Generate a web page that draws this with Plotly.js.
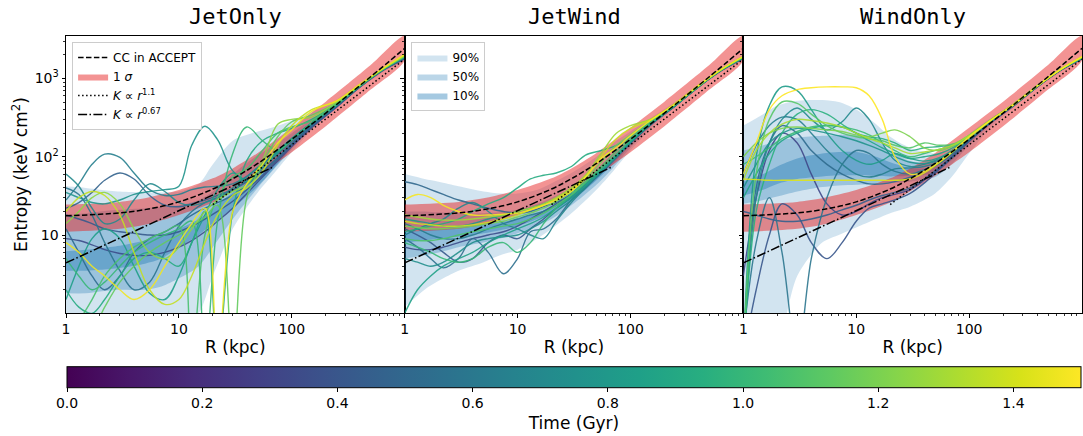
<!DOCTYPE html>
<html><head><meta charset="utf-8">
<script src="https://cdn.plot.ly/plotly-3.0.1.min.js"></script>
<style>body{margin:0;background:#fff}#chart{width:1083px;height:436px}</style>
</head><body><div id="chart"></div>
<script>
// ---------- data ----------
const PANEL_TITLES = ['JetOnly', 'JetWind', 'WindOnly'];
const X_TICKS = [1, 10, 100];
const X_TICK_TEXT = ['1', '10', '100'];
const Y_TICKS = [10, 100, 1000];
const Y_TICK_TEXT = ['10', '10<sup>2</sup>', '10<sup>3</sup>'];
const CB_TICKS = [0.0, 0.2, 0.4, 0.6, 0.8, 1.0, 1.2, 1.4];

// ACCEPT cool-core profile and 1 sigma band
const ACCEPT_R  = [1, 2, 3, 5, 10, 20, 30, 50, 100, 200, 500, 1000];
const ACCEPT_K  = [17.6, 18.4, 19.2, 21.1, 26.5, 38.7, 52.4, 82, 167, 361, 1052, 2420];
const ACCEPT_LO = [11, 11.5, 12, 13.5, 18, 26, 36, 57, 114, 245, 720, 1700];
const ACCEPT_HI = [24.5, 25.5, 26.5, 29.5, 37.5, 53, 71, 112, 235, 505, 1480, 3500];
// power laws
const PL11_R = [20, 1000];
const PL11_K = [24.5, 1760];
const PL067_R = [1, 70];
const PL067_K = [4.4, 75];

// radial grid of the simulation profiles
const R_GRID = [1, 1.3, 1.7, 2.2, 3, 4, 5.5, 7.5, 10, 13, 17, 22, 30, 40, 55, 75, 100, 150, 250, 400, 630, 1000];
// radial grid of the percentile bands
const R_BAND = [1, 1.5, 2, 3, 5, 7, 10, 15, 20, 30, 50, 70, 100, 150, 250, 400, 630, 1000];

// ---- JetOnly ----
const jetOnlyTimes = [0.35, 0.42, 0.47, 0.52, 0.58, 0.64, 0.70, 0.76, 0.84, 0.92, 1.00, 1.06, 1.14, 1.24, 1.36, 1.47];
const jetOnlyK = [
 [9, 8.5, 7.5, 6.5, 5.8, 5.5, 5.5, 6, 7, 8.5, 11, 15, 22, 34, 55, 88, 135, 235, 430, 770, 1250, 1780],
 [18, 16, 14, 12, 11, 10.5, 10, 10, 11, 13, 16, 20, 27, 38, 58, 92, 142, 242, 440, 780, 1260, 1800],
 [22, 26, 35, 50, 62, 52, 32, 24, 23, 25, 28, 32, 38, 48, 66, 98, 148, 250, 448, 785, 1265, 1820],
 [12, 6, 3, 2, 3, 6, 9, 11, 14, 18, 22, 26, 32, 44, 64, 96, 146, 248, 446, 783, 1262, 1830],
 [40, 33, 18, 8, 3.5, 2, 2.5, 6, 13, 20, 26, 30, 37, 50, 72, 108, 158, 258, 452, 788, 1270, 1850],
 [28, 45, 80, 108, 98, 62, 38, 32, 33, 38, 41, 42, 45, 56, 80, 115, 165, 265, 458, 792, 1275, 1860],
 [60, 42, 22, 14, 16, 28, 45, 36, 26, 24, 26, 30, 40, 56, 82, 118, 170, 270, 462, 795, 1280, 1870],
 [35, 30, 26, 25, 28, 33, 36, 38, 42, 140, 245, 165, 66, 52, 78, 118, 172, 272, 464, 798, 1282, 1880],
 [1.5, 4, 9, 12, 9, 4, 1.8, 1.5, 3, 8, 18, 38, 62, 48, 72, 112, 168, 268, 460, 795, 1280, 1885],
 [2, 1.2, 1, 1.5, 3, 5, 6, 5, 4, 8, 20, 0.3, 20, 90, 160, 200, 230, 300, 480, 805, 1285, 1895],
 [5, 3, 2, 2.5, 4, 6, 8, 10, 12, 15, 0.3, 15, 110, 240, 160, 120, 165, 270, 465, 800, 1285, 1900],
 [0.5, 0.8, 1.5, 3, 5, 7, 9, 11, 13, 0.3, 10, 30, 55, 70, 120, 200, 240, 290, 475, 805, 1290, 1915],
 [1, 0.5, 0.6, 1.2, 2.5, 4, 6, 8, 10, 13, 17, 24, 0.3, 30, 80, 180, 280, 340, 490, 815, 1295, 1930],
 [14, 20, 30, 35, 25, 12, 6, 5, 7, 12, 20, 28, 36, 44, 90, 260, 300, 320, 500, 820, 1300, 1950],
 [20, 30, 36, 32, 18, 6, 2, 1.3, 1.5, 3, 8, 18, 32, 40, 65, 140, 250, 400, 510, 830, 1310, 1980],
 [8, 6, 4, 3, 2, 1.5, 2, 4, 8, 14, 22, 0.3, 20, 45, 80, 150, 220, 380, 520, 840, 1320, 2030]
];
const jetOnly90Lo = [0.3, 0.3, 0.3, 0.3, 0.3, 0.4, 0.6, 1.0, 3, 12, 35, 62, 115, 220, 425, 750, 1180, 1740];
const jetOnly90Hi = [42, 40, 38, 36, 35, 35, 36, 45, 80, 160, 210, 240, 290, 380, 540, 860, 1320, 1980];
const jetOnly50Lo = [1.8, 1.8, 1.9, 2.0, 2.0, 2.2, 2.8, 4, 7, 16, 40, 70, 125, 235, 440, 765, 1200, 1780];
const jetOnly50Hi = [18, 19, 20, 21, 22, 23, 24, 28, 36, 60, 105, 140, 200, 300, 490, 820, 1280, 1930];
const jetOnly10Lo = [3.5, 3.5, 3.6, 3.8, 4.3, 5, 7, 10, 14, 22, 42, 72, 130, 250, 455, 780, 1220, 1820];
const jetOnly10Hi = [6.2, 6.5, 6.8, 7.3, 8.5, 10, 12, 16, 22, 35, 62, 98, 160, 275, 475, 800, 1250, 1880];

// ---- JetWind ----
const jetWindTimes = [0.35, 0.42, 0.50, 0.55, 0.62, 0.68, 0.74, 0.80, 0.86, 0.92, 1.00, 1.08, 1.18, 1.28, 1.38, 1.48];
const jetWindK = [
 [7, 6.5, 6.5, 7, 8, 9, 10, 11, 13, 16, 20, 25, 33, 45, 65, 100, 150, 255, 450, 780, 1255, 1800],
 [12, 10, 8, 6, 4.5, 5, 8, 10, 9, 12, 16, 22, 30, 42, 62, 98, 150, 255, 450, 780, 1255, 1810],
 [48, 44, 38, 33, 28, 25, 22, 20, 19, 20, 23, 26, 33, 45, 66, 100, 152, 258, 452, 782, 1258, 1820],
 [9, 7, 5, 3.8, 5, 9, 6, 3.2, 5, 11, 12, 16, 28, 40, 62, 98, 150, 256, 450, 780, 1256, 1815],
 [14, 12, 10, 9, 9, 10, 12, 14, 16, 18, 20, 24, 31, 44, 66, 101, 154, 260, 455, 785, 1262, 1830],
 [10, 12, 14, 16, 22, 26, 20, 14, 12, 10, 9, 15, 26, 40, 64, 100, 152, 258, 453, 783, 1260, 1830],
 [5, 4.5, 4, 4.5, 6, 8, 9, 9.5, 10, 12, 15, 20, 28, 42, 65, 101, 154, 260, 455, 786, 1264, 1840],
 [16, 15, 14, 13, 13, 14, 16, 18, 20, 22, 25, 28, 35, 48, 70, 105, 158, 264, 458, 788, 1268, 1850],
 [1, 2, 3, 4, 5, 6, 8, 10, 12, 14, 17, 22, 30, 43, 66, 102, 156, 262, 456, 786, 1266, 1850],
 [11, 12, 13, 14, 16, 20, 25, 30, 40, 52, 58, 62, 75, 105, 120, 140, 175, 275, 465, 795, 1275, 1860],
 [8, 7, 6, 5, 4.5, 5, 7, 8, 6, 8, 14, 22, 32, 46, 70, 108, 162, 268, 460, 790, 1272, 1865],
 [9, 8.5, 8.5, 9, 10, 11, 12, 13, 14, 16, 19, 24, 33, 48, 75, 118, 175, 280, 468, 798, 1280, 1880],
 [13, 12.5, 12, 12, 12.5, 13, 14, 15, 17, 19, 22, 27, 36, 52, 85, 140, 190, 290, 475, 805, 1285, 1890],
 [18, 17, 16, 15.5, 15.5, 16, 17, 18, 20, 22, 25, 30, 40, 58, 110, 200, 250, 300, 480, 810, 1290, 1900],
 [15, 14, 13.5, 13, 13, 13.5, 14.5, 16, 18, 21, 24, 29, 38, 55, 100, 170, 230, 295, 478, 808, 1288, 1900],
 [28, 33, 30, 24, 20, 18, 18, 18.5, 19, 21, 24, 28, 36, 55, 95, 130, 185, 290, 475, 810, 1295, 1920]
];
const jetWind90Lo = [1.2, 2.0, 2.6, 3.5, 4.5, 5.5, 6.5, 9, 12, 19, 38, 65, 120, 225, 430, 750, 1190, 1760];
const jetWind90Hi = [60, 52, 48, 42, 36, 34, 34, 38, 46, 62, 100, 150, 210, 310, 500, 830, 1290, 1930];
const jetWind50Lo = [5, 5.5, 6, 7, 8, 9, 10.5, 13, 16, 24, 44, 72, 130, 240, 445, 765, 1210, 1800];
const jetWind50Hi = [20, 20, 19.5, 19, 19, 19.5, 21, 25, 30, 40, 70, 110, 175, 285, 475, 805, 1260, 1890];
const jetWind10Lo = [8, 8.5, 9, 9.5, 10.5, 11.5, 13, 16, 19, 27, 50, 80, 140, 255, 455, 780, 1225, 1830];
const jetWind10Hi = [11, 11.5, 12, 12.5, 13.5, 14.5, 16, 19, 23, 32, 58, 92, 155, 270, 465, 795, 1245, 1860];

// ---- WindOnly ----
const windOnlyTimes = [0.32, 0.40, 0.46, 0.52, 0.58, 0.64, 0.70, 0.76, 0.82, 0.88, 0.95, 1.02, 1.10, 1.20, 1.30, 1.42, 1.50];
const windOnlyK = [
 [3, 30, 120, 200, 150, 60, 25, 18, 20, 25, 30, 33, 38, 50, 72, 108, 160, 265, 455, 780, 1250, 1780],
 [0.3, 2, 10, 25, 18, 8, 5, 8, 15, 22, 25, 28, 34, 46, 70, 105, 158, 262, 452, 778, 1248, 1780],
 [20, 18, 16, 15, 15, 16, 18, 21, 24, 28, 32, 35, 40, 52, 74, 108, 160, 265, 455, 781, 1252, 1790],
 [0.3, 40, 150, 250, 200, 120, 80, 60, 50, 45, 45, 48, 55, 65, 82, 115, 165, 268, 458, 784, 1255, 1800],
 [0.5, 8, 30, 6, 0.3, 5, 30, 80, 120, 110, 80, 65, 60, 68, 85, 118, 168, 270, 460, 786, 1258, 1810],
 [60, 140, 250, 320, 300, 200, 120, 80, 60, 55, 60, 70, 72, 75, 88, 120, 170, 272, 462, 788, 1260, 1815],
 [0.3, 30, 150, 300, 420, 300, 220, 280, 420, 300, 150, 90, 75, 80, 92, 122, 172, 274, 463, 790, 1262, 1820],
 [40, 80, 150, 200, 230, 220, 200, 180, 160, 140, 120, 100, 85, 82, 95, 125, 175, 276, 465, 792, 1265, 1830],
 [0.3, 100, 450, 780, 700, 400, 200, 120, 90, 80, 90, 110, 95, 88, 98, 128, 178, 278, 466, 794, 1267, 1835],
 [30, 60, 110, 160, 200, 230, 250, 240, 200, 160, 130, 110, 95, 100, 110, 135, 180, 280, 468, 796, 1270, 1840],
 [0.3, 20, 80, 200, 350, 400, 350, 260, 200, 180, 170, 150, 120, 130, 135, 145, 185, 282, 470, 798, 1272, 1845],
 [80, 100, 130, 170, 210, 240, 250, 240, 220, 190, 150, 120, 100, 110, 125, 140, 183, 282, 470, 798, 1272, 1850],
 [0.3, 60, 300, 500, 480, 350, 250, 200, 180, 170, 160, 140, 130, 150, 140, 148, 188, 285, 472, 800, 1275, 1855],
 [100, 150, 200, 230, 240, 230, 220, 210, 190, 180, 200, 220, 180, 130, 120, 142, 186, 284, 472, 800, 1275, 1860],
 [50, 120, 200, 260, 300, 290, 270, 240, 200, 170, 150, 130, 110, 115, 125, 145, 188, 286, 474, 802, 1278, 1870],
 [52, 51, 50, 50, 50, 50, 50, 50, 50, 50, 50, 50, 52, 62, 85, 122, 175, 278, 466, 795, 1270, 1880],
 [60, 150, 400, 600, 720, 760, 780, 780, 760, 600, 300, 100, 60, 65, 88, 125, 180, 282, 470, 800, 1280, 1900]
];
const windOnly90Lo = [0.3, 0.3, 0.4, 3, 8, 10, 12.5, 16, 19, 23, 34, 55, 110, 225, 430, 750, 1180, 1740];
const windOnly90Hi = [250, 350, 450, 520, 530, 500, 400, 260, 180, 130, 110, 125, 195, 300, 490, 820, 1270, 1920];
const windOnly50Lo = [25, 28, 31, 36, 41, 43, 44, 45, 46, 48, 55, 80, 140, 245, 445, 765, 1205, 1790];
const windOnly50Hi = [120, 140, 160, 175, 185, 190, 190, 160, 120, 88, 85, 115, 180, 288, 478, 808, 1255, 1890];
const windOnly10Lo = [32, 38, 45, 52, 56, 58, 58, 57, 56, 57, 63, 90, 150, 255, 455, 780, 1220, 1820];
const windOnly10Hi = [48, 60, 75, 95, 110, 115, 115, 100, 85, 72, 74, 104, 166, 273, 468, 795, 1245, 1870];

// ---------- styles ----------
const T_MAX = 1.5;
const VIR = ['#440154','#48186a','#472d7b','#424086','#3b528b','#33638d','#2c728e','#26828e','#21918c','#1fa088','#28ae80','#3fbc73','#5ec962','#84d44b','#addc30','#d8e219','#fde725'];
function hex2rgb(h){return [parseInt(h.substr(1,2),16),parseInt(h.substr(3,2),16),parseInt(h.substr(5,2),16)];}
function viridis(v){
  v = Math.max(0, Math.min(1, v));
  const n = VIR.length - 1, p = v * n;
  const i = Math.min(Math.floor(p), n - 1), f = p - i;
  const a = hex2rgb(VIR[i]), b = hex2rgb(VIR[i+1]);
  return 'rgb(' + a.map((c,k)=>Math.round(c + (b[k]-c)*f)).join(',') + ')';
}
const FONT = 'DejaVu Sans, sans-serif';
const BAND_BLUE = [0.2, 0.3, 0.4];
const BAND_NAMES = ['90%', '50%', '10%'];

const panels = [
  {times: jetOnlyTimes, K: jetOnlyK, bands: [[jetOnly90Lo, jetOnly90Hi],[jetOnly50Lo, jetOnly50Hi],[jetOnly10Lo, jetOnly10Hi]]},
  {times: jetWindTimes, K: jetWindK, bands: [[jetWind90Lo, jetWind90Hi],[jetWind50Lo, jetWind50Hi],[jetWind10Lo, jetWind10Hi]]},
  {times: windOnlyTimes, K: windOnlyK, bands: [[windOnly90Lo, windOnly90Hi],[windOnly50Lo, windOnly50Hi],[windOnly10Lo, windOnly10Hi]]}
];

function poly(x, lo, hi){
  return {x: x.concat(x.slice().reverse()), y: hi.concat(lo.slice().reverse())};
}

const traces = [];
panels.forEach((P, pi) => {
  const xa = pi === 0 ? 'x' : 'x' + (pi + 1);
  const ya = pi === 0 ? 'y' : 'y' + (pi + 1);
  P.bands.forEach((b, bi) => {
    const pg = poly(R_BAND, b[0], b[1]);
    traces.push({type:'scatter', mode:'lines', x: pg.x, y: pg.y, xaxis: xa, yaxis: ya,
      fill:'toself', fillcolor:'rgba(31,119,180,' + BAND_BLUE[bi] + ')',
      line:{width:0, shape:'spline', smoothing:0.8}, hoverinfo:'skip',
      name: BAND_NAMES[bi], legend:'legend2', legendrank: bi + 1, showlegend: pi === 1});
  });
  const rb = poly(ACCEPT_R, ACCEPT_LO, ACCEPT_HI);
  traces.push({type:'scatter', mode:'lines', x: rb.x, y: rb.y, xaxis: xa, yaxis: ya,
    fill:'toself', fillcolor:'rgba(232,40,40,0.5)', line:{width:0, shape:'spline', smoothing:0.8},
    hoverinfo:'skip', name:'1 <i>σ</i>', legend:'legend', legendrank: 2, showlegend: pi === 0});
  P.K.forEach((k, ci) => {
    traces.push({type:'scatter', mode:'lines', x: R_GRID, y: k, xaxis: xa, yaxis: ya,
      line:{color: viridis(P.times[ci] / T_MAX), width:1.4, shape:'spline', smoothing:1},
      opacity:0.9, hoverinfo:'skip', showlegend:false});
  });
  traces.push({type:'scatter', mode:'lines', x: ACCEPT_R, y: ACCEPT_K, xaxis: xa, yaxis: ya,
    line:{color:'black', width:1.5, dash:'5.5px,2.4px', shape:'spline'}, name:'CC in ACCEPT',
    legend:'legend', legendrank:1, showlegend: pi === 0, hoverinfo:'skip'});
  traces.push({type:'scatter', mode:'lines', x: PL11_R, y: PL11_K, xaxis: xa, yaxis: ya,
    line:{color:'black', width:1.5, dash:'1.5px,2.5px'}, name:'<i>K</i> ∝ <i>r</i><sup>1.1</sup>',
    legend:'legend', legendrank:3, showlegend: pi === 0, hoverinfo:'skip'});
  traces.push({type:'scatter', mode:'lines', x: PL067_R, y: PL067_K, xaxis: xa, yaxis: ya,
    line:{color:'black', width:1.5, dash:'9px,2.4px,1.5px,2.4px'}, name:'<i>K</i> ∝ <i>r</i><sup>0.67</sup>',
    legend:'legend', legendrank:4, showlegend: pi === 0, hoverinfo:'skip'});
});

traces.push({type:'scatter', mode:'markers', x:[null], y:[null], showlegend:false, hoverinfo:'skip',
  marker:{color:[0], cmin:0, cmax:T_MAX, colorscale:'Viridis', showscale:true,
    colorbar:{orientation:'h', x:0.5, xanchor:'center', y:-0.124, yanchor:'bottom', len:0.998, lenmode:'fraction',
      thickness:21, thicknessmode:'pixels', xpad:0, ypad:0, outlinewidth:1, outlinecolor:'black',
      tickmode:'array', tickvals: CB_TICKS, ticktext: CB_TICKS.map(v=>v.toFixed(1)),
      ticks:'outside', ticklen:4, tickcolor:'black', tickfont:{size:14, family:FONT},
      title:{text:'Time (Gyr)', side:'bottom', font:{size:17, family:FONT}}}}});

const minorVals = [];
for (let d = 0; d < 4; d++) for (let m = 2; m <= 9; m++) minorVals.push(m * Math.pow(10, d));

function xAxis(i){
  return {domain:[i/3, (i+1)/3], type:'log', range:[0, 3], anchor: i === 0 ? 'y' : 'y' + (i+1),
    showline:true, mirror:true, linecolor:'black', linewidth:1, showgrid:false, zeroline:false,
    ticks:'outside', ticklen:3.5, tickwidth:1, tickcolor:'black',
    tickmode:'array', tickvals: X_TICKS, ticktext: X_TICK_TEXT, tickfont:{size:14, family:FONT},
    minor:{tickmode:'array', tickvals: minorVals, ticks:'outside', ticklen:2, tickwidth:0.8, tickcolor:'black', showgrid:false},
    title:{text:'R (kpc)', font:{size:17, family:FONT}, standoff:4}};
}
function yAxis(i){
  return {domain:[0.2175, 1], type:'log', range:[0.004, 3.542], anchor: i === 0 ? 'x' : 'x' + (i+1),
    showline:true, mirror:true, linecolor:'black', linewidth:1, showgrid:false, zeroline:false,
    ticks:'outside', ticklen:3.5, tickwidth:1, tickcolor:'black',
    tickmode:'array', tickvals: Y_TICKS, ticktext: Y_TICK_TEXT, showticklabels: i === 0,
    tickfont:{size:14, family:FONT},
    minor:{tickmode:'array', tickvals: minorVals, ticks:'outside', ticklen:2, tickwidth:0.8, tickcolor:'black', showgrid:false},
    title: i === 0 ? {text:'Entropy (keV cm<sup>2</sup>)', font:{size:17, family:FONT}, standoff:2} : {text:''}};
}

const legendBase = {xanchor:'left', yanchor:'top', bgcolor:'rgba(255,255,255,0.85)', bordercolor:'#cccccc',
  borderwidth:1, font:{size:12, family:FONT, color:'black'}, traceorder:'normal', tracegroupgap:0};

const layout = {
  width:1083, height:436, margin:{l:66, r:1, t:36, b:46, autoexpand:false},
  paper_bgcolor:'white', plot_bgcolor:'white', showlegend:true,
  font:{family:FONT, size:14, color:'black'},
  legend: Object.assign({x:0.006, y:0.983}, legendBase),
  legend2: Object.assign({x:0.340, y:0.983}, legendBase),
  xaxis: xAxis(0), xaxis2: xAxis(1), xaxis3: xAxis(2),
  yaxis: yAxis(0), yaxis2: yAxis(1), yaxis3: yAxis(2),
  annotations: PANEL_TITLES.map((t, i) => ({text:t, xref:'paper', yref:'paper', x:(2*i+1)/6, y:1.0537,
    xanchor:'center', yanchor:'middle', showarrow:false, font:{family:'DejaVu Sans Mono, monospace', size:22, color:'black'}}))
};

Plotly.newPlot('chart', traces, layout, {displayModeBar:false, staticPlot:true});
</script>
</body></html>
